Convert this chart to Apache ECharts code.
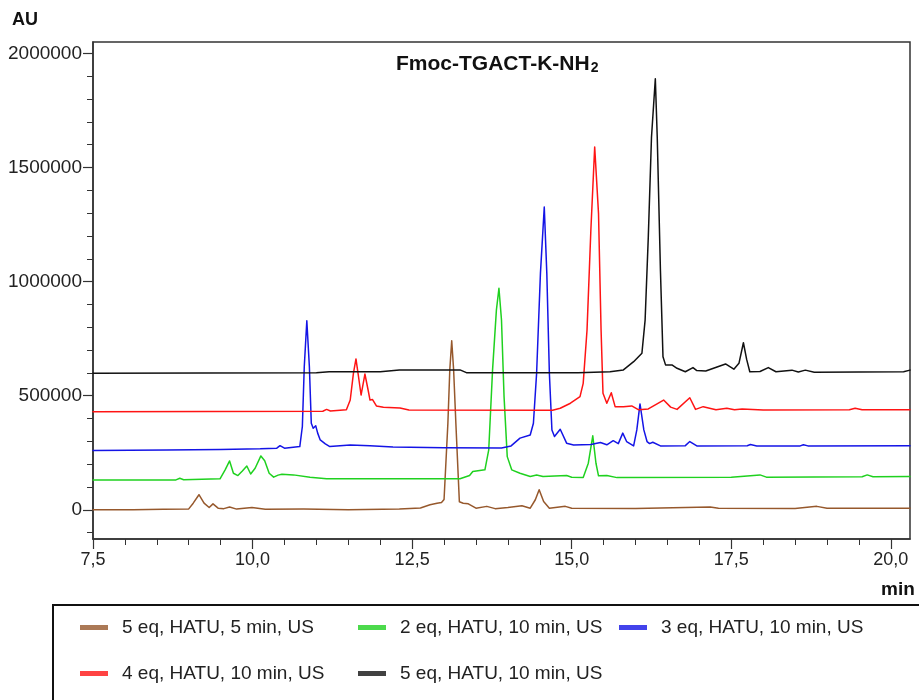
<!DOCTYPE html>
<html>
<head>
<meta charset="utf-8">
<script src="https://cdn.jsdelivr.net/npm/echarts@6/dist/echarts.min.js"></script>
<style>
  html, body { margin: 0; padding: 0; background: #fff; }
  #chart { width: 919px; height: 700px; }
</style>
</head>
<body>
<div id="chart"></div>
<script>
// axis ticks
const xMajorTicks = [7.5, 10, 12.5, 15, 17.5, 20];
const xMinorTicks = [8, 8.5, 9, 9.5, 10.5, 11, 11.5, 12, 13, 13.5, 14, 14.5, 15.5, 16, 16.5, 17, 18, 18.5, 19, 19.5];
const yMajorTicks = [0, 500000, 1000000, 1500000, 2000000];
const yMinorTicks = [-100000, 100000, 200000, 300000, 400000, 600000, 700000, 800000, 900000,
  1100000, 1200000, 1300000, 1400000, 1600000, 1700000, 1800000, 1900000];

const seriesNames = [
  '5 eq, HATU, 5 min, US',
  '2 eq, HATU, 10 min, US',
  '3 eq, HATU, 10 min, US',
  '4 eq, HATU, 10 min, US',
  '5 eq, HATU, 10 min, US'
];
const seriesColors = ['#96582c', '#1fd11f', '#1414e6', '#ff1414', '#111111'];

// traces: [retention time (min), AU]
const brownTrace = [
  [7.50, 0], [8.13, 0], [8.60, 2000], [9.00, 4000], [9.07, 29000], [9.16, 66000], [9.24, 29000],
  [9.32, 10000], [9.38, 26000], [9.46, 7000], [9.55, 5000], [9.64, 12000], [9.75, 3000], [9.99, 10000],
  [10.20, 2000], [10.80, 3000], [11.50, 0], [12.30, 3000], [12.63, 8000], [12.78, 22000], [12.89, 29000],
  [12.96, 32000], [13.00, 45000], [13.06, 379000], [13.09, 613000], [13.12, 741000], [13.15, 613000],
  [13.185, 379000], [13.24, 35000], [13.30, 29000], [13.38, 26000], [13.50, 7000], [13.67, 15000],
  [13.80, 5000], [14.00, 10000], [14.22, 18000], [14.35, 7000], [14.43, 44000], [14.49, 88000],
  [14.56, 36000], [14.65, 7000], [14.90, 15000], [15.00, 7000], [16.00, 6000], [17.17, 12000],
  [17.30, 7000], [18.50, 6000], [18.84, 15000], [19.00, 7000], [20.30, 7000]
];
const greenTrace = [
  [7.50, 131000], [8.80, 131000], [8.86, 138000], [8.92, 132000], [9.49, 136000], [9.57, 175000],
  [9.64, 214000], [9.70, 160000], [9.77, 150000], [9.84, 170000], [9.91, 192000], [9.97, 157000],
  [10.04, 182000], [10.13, 236000], [10.19, 215000], [10.26, 160000], [10.33, 143000], [10.40, 152000],
  [10.46, 156000], [10.64, 153000], [10.90, 143000], [11.16, 136000], [13.25, 136000], [13.40, 150000],
  [13.45, 168000], [13.64, 175000], [13.70, 263000], [13.76, 613000], [13.82, 875000], [13.86, 971000],
  [13.90, 831000], [13.94, 496000], [13.99, 233000], [14.06, 175000], [14.19, 160000], [14.35, 146000],
  [14.45, 152000], [14.55, 146000], [14.92, 150000], [15.00, 143000], [15.18, 141000], [15.26, 204000],
  [15.33, 324000], [15.38, 204000], [15.42, 149000], [15.55, 150000], [15.71, 141000], [17.50, 143000],
  [17.95, 153000], [18.05, 143000], [19.55, 145000], [19.63, 153000], [19.72, 145000], [20.30, 146000]
];
const blueTrace = [
  [7.50, 260000], [8.65, 262000], [9.50, 264000], [10.12, 267000], [10.38, 270000], [10.43, 281000],
  [10.50, 270000], [10.74, 277000], [10.78, 365000], [10.81, 627000], [10.85, 828000], [10.89, 627000],
  [10.92, 379000], [10.95, 357000], [10.99, 368000], [11.02, 336000], [11.06, 306000], [11.09, 314000],
  [11.14, 289000], [11.21, 277000], [11.53, 284000], [11.84, 281000], [12.20, 275000], [13.00, 272000],
  [13.90, 271000], [14.05, 280000], [14.19, 314000], [14.35, 328000], [14.40, 379000], [14.45, 598000],
  [14.51, 1036000], [14.57, 1327000], [14.61, 1036000], [14.65, 598000], [14.69, 350000], [14.73, 321000],
  [14.82, 353000], [14.92, 292000], [15.03, 284000], [15.30, 286000], [15.45, 295000], [15.55, 285000],
  [15.65, 303000], [15.73, 290000], [15.80, 336000], [15.86, 299000], [15.97, 280000], [16.02, 350000],
  [16.07, 464000], [16.13, 350000], [16.18, 299000], [16.22, 290000], [16.27, 296000], [16.39, 280000],
  [16.78, 281000], [16.85, 299000], [16.96, 280000], [17.75, 281000], [17.80, 286000], [17.90, 280000],
  [18.58, 280000], [18.63, 285000], [18.70, 280000], [20.30, 281000]
];
const redTrace = [
  [7.50, 430000], [11.10, 432000], [11.16, 440000], [11.22, 433000], [11.47, 438000], [11.53, 481000],
  [11.58, 598000], [11.62, 661000], [11.66, 583000], [11.70, 503000], [11.76, 595000], [11.81, 525000],
  [11.84, 481000], [11.88, 483000], [11.94, 455000], [12.05, 449000], [12.31, 446000], [12.45, 437000],
  [14.70, 436000], [14.82, 445000], [14.98, 467000], [15.13, 496000], [15.18, 554000], [15.24, 788000],
  [15.30, 1225000], [15.36, 1590000], [15.42, 1298000], [15.46, 788000], [15.49, 511000], [15.55, 467000],
  [15.62, 513000], [15.68, 452000], [15.81, 452000], [15.94, 455000], [16.05, 438000], [16.20, 442000],
  [16.44, 481000], [16.55, 450000], [16.65, 440000], [16.85, 491000], [16.94, 440000], [17.06, 452000],
  [17.26, 438000], [17.43, 445000], [17.55, 438000], [17.67, 442000], [18.00, 437000], [19.35, 438000],
  [19.44, 445000], [19.55, 438000], [20.30, 438000]
];
const blackTrace = [
  [7.50, 598000], [11.00, 601000], [11.20, 605000], [12.00, 605000], [12.30, 613000], [13.25, 613000],
  [13.35, 601000], [15.10, 601000], [15.60, 605000], [15.81, 613000], [15.97, 649000], [16.10, 686000],
  [16.15, 831000], [16.20, 1196000], [16.25, 1634000], [16.31, 1889000], [16.34, 1634000], [16.39, 1050000],
  [16.43, 671000], [16.47, 635000], [16.57, 635000], [16.65, 620000], [16.78, 605000], [16.90, 623000],
  [16.96, 610000], [17.10, 608000], [17.41, 639000], [17.54, 616000], [17.62, 642000], [17.69, 732000],
  [17.74, 660000], [17.79, 605000], [17.95, 606000], [18.08, 623000], [18.20, 605000], [18.45, 612000],
  [18.55, 604000], [18.66, 612000], [18.80, 603000], [20.20, 605000], [20.30, 612000]
];

const traces = [brownTrace, greenTrace, blueTrace, redTrace, blackTrace];

// legend slots (two rows, three columns)
const legendSlots = [[80, 618], [358, 618], [619, 618], [80, 664], [358, 664]];

const FONT = '"Liberation Sans", Arial, sans-serif';
const AXIS_COLOR = '#333';

const chart = echarts.init(document.getElementById('chart'), null, { renderer: 'canvas' });

const commaFmt = v => v.toFixed(1).replace('.', ',');

chart.setOption({
  animation: false,
  backgroundColor: '#fff',
  title: {
    text: '{a|Fmoc-TGACT-K-NH}{b|2}',
    left: 396,
    top: 49,
    padding: 0,
    textStyle: {
      rich: {
        a: { fontFamily: FONT, fontSize: 21, fontWeight: 'bold', color: '#111', lineHeight: 26, verticalAlign: 'bottom' },
        b: { fontFamily: FONT, fontSize: 14, fontWeight: 'bold', color: '#111', lineHeight: 26, verticalAlign: 'bottom', padding: [10, 0, 0, 1] }
      }
    }
  },
  legend: seriesNames.map((name, i) => ({
    data: [name],
    left: legendSlots[i][0],
    top: legendSlots[i][1],
    padding: 0,
    icon: 'rect',
    itemWidth: 28,
    itemHeight: 5,
    selectedMode: false,
    itemStyle: { opacity: 0.8 },
    textStyle: { fontFamily: FONT, fontSize: 19, color: '#222', padding: [0, 0, 0, 9] }
  })),
  grid: {
    left: 93, right: 9, top: 42, bottom: 161,
    show: true, borderColor: AXIS_COLOR, borderWidth: 1.5
  },
  xAxis: [{
    type: 'value',
    min: 7.5, max: 20.3,
    axisLine: { show: true, onZero: false, lineStyle: { color: AXIS_COLOR, width: 1.5 } },
    axisTick: { show: true, customValues: xMajorTicks, length: 10, lineStyle: { color: AXIS_COLOR, width: 1.2 } },
    axisLabel: { customValues: xMajorTicks, formatter: commaFmt, fontFamily: FONT, fontSize: 18, color: '#222', margin: 12 },
    splitLine: { show: false }
  }, {
    type: 'value',
    min: 7.5, max: 20.3,
    position: 'bottom',
    axisLine: { show: false, onZero: false },
    axisTick: { show: true, customValues: xMinorTicks, length: 6, lineStyle: { color: AXIS_COLOR, width: 1 } },
    axisLabel: { show: false },
    splitLine: { show: false }
  }],
  yAxis: [{
    type: 'value',
    min: -128000, max: 2050000,
    axisLine: { show: true, onZero: false, lineStyle: { color: AXIS_COLOR, width: 1.5 } },
    axisTick: { show: true, customValues: yMajorTicks, length: 10, lineStyle: { color: AXIS_COLOR, width: 1.2 } },
    axisLabel: { customValues: yMajorTicks, formatter: v => String(v), fontFamily: FONT, fontSize: 19, color: '#222', margin: 11 },
    splitLine: { show: false }
  }, {
    type: 'value',
    min: -128000, max: 2050000,
    position: 'left',
    axisLine: { show: false, onZero: false },
    axisTick: { show: true, customValues: yMinorTicks, length: 6, lineStyle: { color: AXIS_COLOR, width: 1 } },
    axisLabel: { show: false },
    splitLine: { show: false }
  }],
  graphic: [
    { type: 'text', left: 12, top: 11, style: { text: 'AU', font: 'bold 18px ' + FONT, fill: '#111' } },
    { type: 'text', left: 881, top: 580, style: { text: 'min', font: 'bold 19px ' + FONT, fill: '#111' } },
    { type: 'rect', shape: { x: 53, y: 605, width: 900, height: 120 },
      style: { fill: 'none', stroke: '#111', lineWidth: 2 }, z: 10 }
  ],
  series: seriesNames.map((name, i) => ({
    name,
    type: 'line',
    xAxisIndex: 0,
    yAxisIndex: 0,
    data: traces[i],
    showSymbol: false,
    symbol: 'none',
    smooth: false,
    color: seriesColors[i],
    lineStyle: { width: 1.5, color: seriesColors[i], join: 'round', cap: 'round' }
  }))
});
</script>
</body>
</html>
